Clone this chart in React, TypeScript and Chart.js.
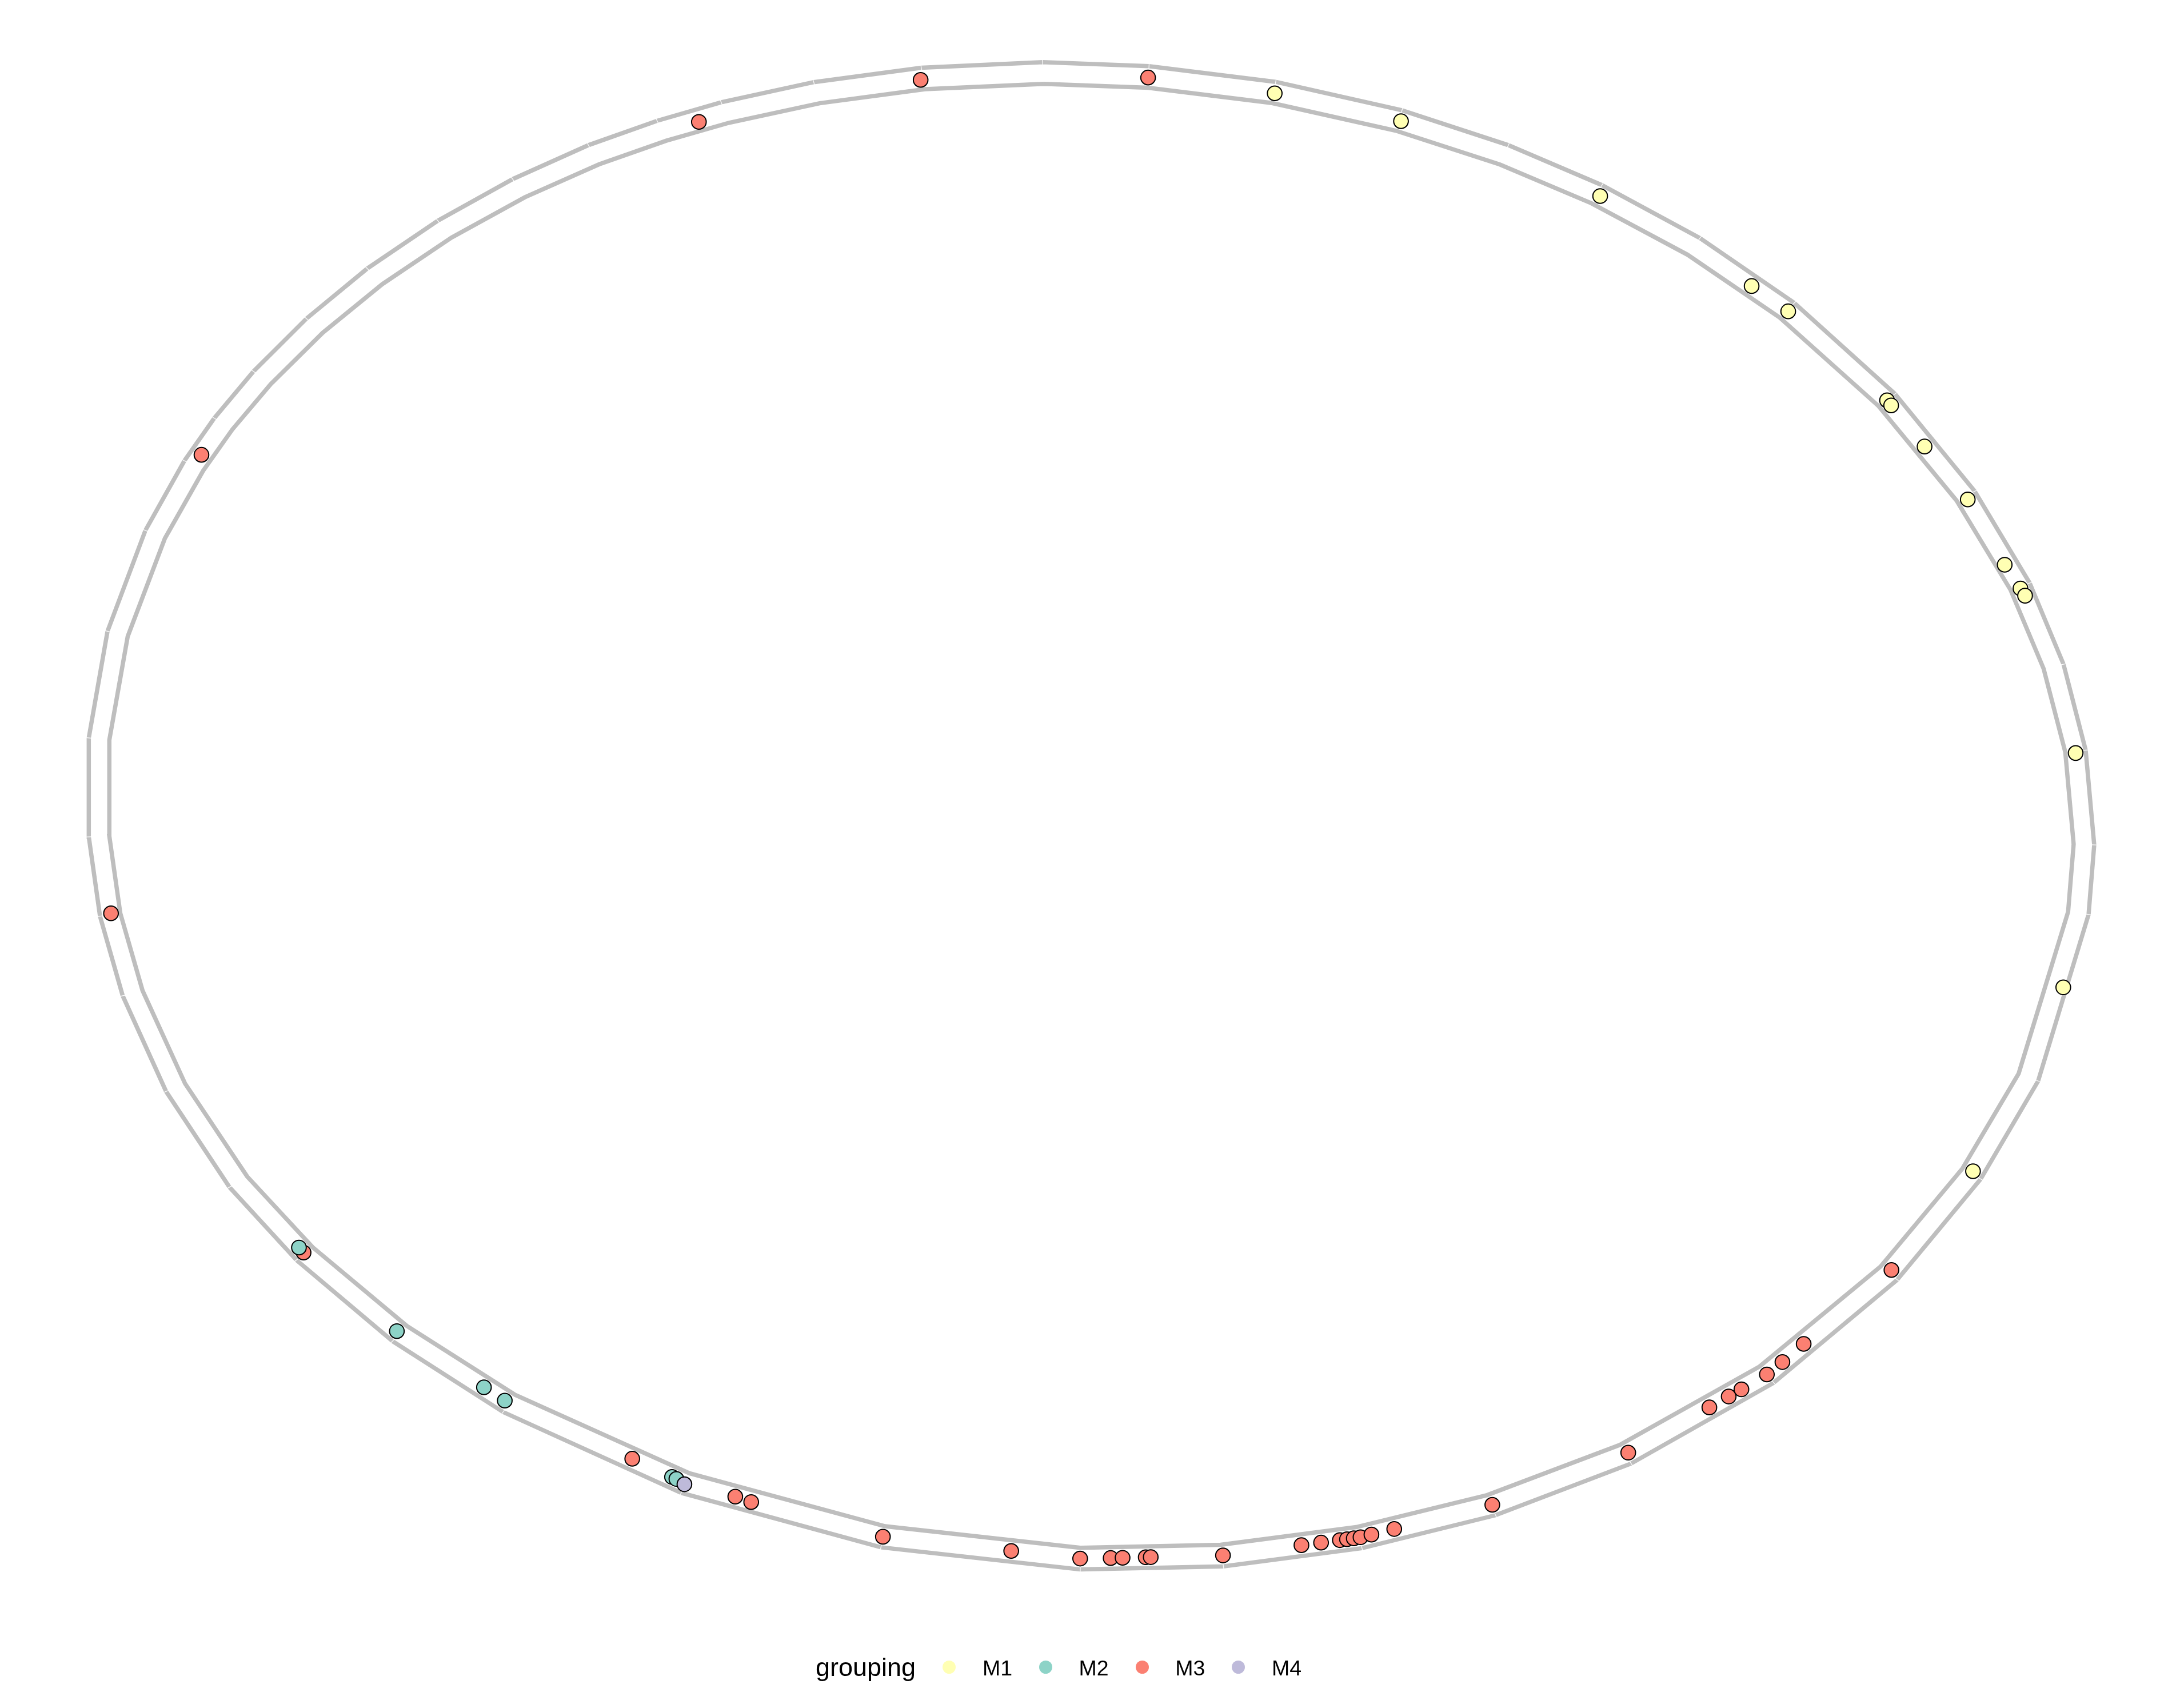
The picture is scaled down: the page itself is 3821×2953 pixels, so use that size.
import React, { useEffect, useRef } from "react";
import { Chart, registerables } from "chart.js";

Chart.register(...registerables);

// ---------- data ----------
// Chromosome boundary angles (degrees, clockwise from 12 o'clock) — track vertices
const chromBoundaries = [
  358.26, 4.34, 11.65, 19.13, 25.7, 31.78, 38.6, 45.81, 54.71, 63.32, 70.91, 77.34,
  83.97, 91.19, 96.51, 109.67, 117.97, 127.2, 137.99, 148.41, 157.24, 165.37, 173.46,
  181.65, 193.11, 205.12, 216.82, 224.96, 233.04, 239.63, 247.61, 255.19, 261.32,
  267.36, 274.89, 283.1, 291.13, 296.93, 300.63, 304.88, 309.97, 315.19, 320.69,
  326.07, 331.16, 335.54, 339.49, 345.03, 351.3,
];

const groups = ["M1", "M2", "M3", "M4"];
const groupColors = ["#FFFFB3", "#8DD3C7", "#FB8072", "#BEBADA"];

// marker positions: angle (deg) and position across the track band (0 inner .. 1 outer)
const m1Angles = [11.71, 19.27, 32.03, 43.08, 45.92, 54.75, 55.2, 58.88, 63.62, 69.04, 71.07, 71.69, 84.12, 102.31, 117.74];
const m1Track = [0.47, 0.5, 0.5, 0.5, 0.5, 0.5, 0.5, 0.5, 0.5, 0.4, 0.48, 0.55, 0.5, 0.85, 0.5];

const m2Angles = [233.61, 225.21, 218.7, 217.15, 206.01, 205.72];
const m2Track = [0.5, 0.5, 0.5, 0.5, 0.5, 0.5];

const m3Angles = [
  351.14, 337.81, 297.89, 4.32, 261.42, 233.15, 208.66, 202.1, 201.11, 193.12, 185.66,
  181.66, 179.9, 179.21, 177.87, 177.58, 173.4, 168.77, 167.61, 166.5, 166.08, 165.68,
  165.28, 164.61, 163.21, 157.17, 148.2, 142.23, 140.8, 139.86, 137.96, 136.62, 134.72, 126.9,
];
const m3Track = [
  0.45, 0.42, 0.5, 0.47, 0.45, 0.5, 0.5, 0.5, 0.55, 0.5, 0.5, 0.5, 0.5, 0.5, 0.5, 0.5,
  0.5, 0.5, 0.5, 0.5, 0.5, 0.5, 0.5, 0.5, 0.5, 0.5, 0.5, 0.52, 0.52, 0.52, 0.5, 0.52, 0.5, 0.5,
];

const m4Angles = [205.15];
const m4Track = [0.57];

// ---------- projection (layout of the circular track) ----------
const W = 3821;
const H = 2953;
const CX = 1909;
const CY = 1427;
const AX = 1757;
const BY = 1320;
const INNER_X = 0.9795;
const INNER_Y = 0.9712;
// radial shape of the drawn track, sampled every 30 degrees
const SHAPE = [0.9977, 0.9939, 0.9924, 0.9984, 0.9924, 0.9967, 0.9994, 0.9991, 1.0045, 0.999, 1.0034, 1.0044];

function shapeFactor(phi: number) {
  const p = ((phi % 360) + 360) % 360;
  const i = Math.floor(p / 30);
  const f = (p - i * 30) / 30;
  return SHAPE[i % 12] * (1 - f) + SHAPE[(i + 1) % 12] * f;
}

function project(phiDeg: number, rx: number, ry: number) {
  const p = (phiDeg * Math.PI) / 180;
  const s = Math.sin(p);
  const c = Math.cos(p);
  const g = shapeFactor(phiDeg);
  const a = rx * g * s;
  const b = ry * g * c;
  return { x: 1.0005 * a - 0.018 * b, y: -0.018 * a + 1.0005 * b };
}

const sortedBounds = [...chromBoundaries].sort((a, b) => a - b);

function chordFactor(phi: number) {
  let lo = sortedBounds[sortedBounds.length - 1];
  let hi = sortedBounds[0] + 360;
  let ph = phi;
  for (let i = 0; i < sortedBounds.length - 1; i++) {
    if (phi >= sortedBounds[i] && phi < sortedBounds[i + 1]) {
      lo = sortedBounds[i];
      hi = sortedBounds[i + 1];
      break;
    }
  }
  if (ph < lo) ph += 360;
  const half = ((hi - lo) / 2) * (Math.PI / 180);
  const mid = lo + (hi - lo) / 2;
  return Math.cos(half) / Math.cos((ph - mid) * (Math.PI / 180));
}

function markerPoints(angles: number[], track: number[]) {
  return angles.map((a, i) => {
    const cf = chordFactor(a);
    const t = track[i];
    return project(a, (INNER_X + t * (1 - INNER_X)) * cf, (INNER_Y + t * (1 - INNER_Y)) * cf);
  });
}

function ring(rx: number, ry: number) {
  const pts = chromBoundaries.map((a) => project(a, rx, ry));
  pts.push(pts[0]);
  return pts;
}

function ticks() {
  const pts: any[] = [];
  chromBoundaries.forEach((a) => {
    pts.push(project(a, 1.0047, 1.0058));
    pts.push(project(a, 0.99, 0.986));
    pts.push({ x: 0, y: null });
  });
  return pts;
}

export default function App() {
  const canvasRef = useRef<HTMLCanvasElement | null>(null);

  useEffect(() => {
    document.body.style.margin = "0";
    const canvas = canvasRef.current;
    if (!canvas) return;

    const groupData = [
      markerPoints(m1Angles, m1Track),
      markerPoints(m2Angles, m2Track),
      markerPoints(m3Angles, m3Track),
      markerPoints(m4Angles, m4Track),
    ];
    const drawOrder = [4, 2, 3, 1];

    const lineStyle = {
      showLine: true,
      borderColor: "#BEBEBE",
      borderWidth: 7.5,
      pointRadius: 0,
      pointHoverRadius: 0,
      fill: false,
      tension: 0,
      borderJoinStyle: "miter" as const,
      borderCapStyle: "butt" as const,
    };

    const chart = new Chart(canvas, {
      type: "scatter",
      data: {
        datasets: [
          { label: "outer", data: ring(1, 1), order: 30, ...lineStyle },
          { label: "inner", data: ring(INNER_X, INNER_Y), order: 30, ...lineStyle },
          {
            label: "breaks",
            data: ticks(),
            showLine: true,
            spanGaps: false,
            borderColor: "rgba(255,255,255,0.9)",
            borderWidth: 1.3,
            pointRadius: 0,
            pointHoverRadius: 0,
            order: 20,
          },
          ...groups.map((g, i) => ({
            label: g,
            data: groupData[i],
            showLine: false,
            backgroundColor: groupColors[i],
            borderColor: "#000000",
            borderWidth: 2,
            pointRadius: 12.8,
            pointHoverRadius: 12.8,
            order: drawOrder[i],
          })),
        ],
      },
      options: {
        responsive: false,
        animation: false,
        devicePixelRatio: 1,
        events: [],
        layout: { padding: 0, autoPadding: false },
        scales: {
          x: { type: "linear", display: false, min: -CX / AX, max: (W - CX) / AX },
          y: { type: "linear", display: false, min: -(H - CY) / BY, max: CY / BY },
        },
        plugins: {
          legend: { display: false },
          tooltip: { enabled: false },
        },
      },
    });
    return () => chart.destroy();
  }, []);

  const font = "'Liberation Sans', Arial, Helvetica, sans-serif";
  const titleSize = 45;
  const labelSize = 37.5;
  const baseline = 2931.7;
  const markerY = 2916.7;
  const markerD = 23;

  return (
    <div style={{ position: "relative", width: W, height: H, overflow: "hidden", background: "#fff" }}>
      <canvas ref={canvasRef} width={W} height={H} style={{ display: "block", width: W, height: H }} />
      <div
        style={{
          position: "absolute",
          left: 1427,
          top: baseline - 0.8465 * titleSize,
          fontFamily: font,
          fontSize: titleSize,
          lineHeight: `${titleSize}px`,
          color: "#000",
          whiteSpace: "nowrap",
        }}
      >
        grouping
      </div>
      {groups.map((g, i) => {
        const mx = 1660.7 + i * 168.7;
        return (
          <React.Fragment key={g}>
            <div
              style={{
                position: "absolute",
                left: mx - markerD / 2,
                top: markerY - markerD / 2,
                width: markerD,
                height: markerD,
                borderRadius: "50%",
                background: groupColors[i],
              }}
            />
            <div
              style={{
                position: "absolute",
                left: mx + 58.2,
                top: baseline - 0.8465 * labelSize,
                fontFamily: font,
                fontSize: labelSize,
                lineHeight: `${labelSize}px`,
                color: "#000",
                whiteSpace: "nowrap",
              }}
            >
              {g}
            </div>
          </React.Fragment>
        );
      })}
    </div>
  );
}
